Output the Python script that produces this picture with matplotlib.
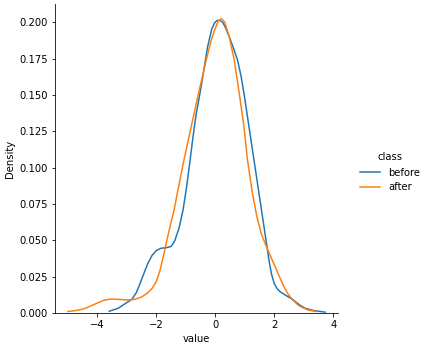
import matplotlib
matplotlib.use("Agg")
import matplotlib.pyplot as plt

# Kernel density estimates of "value", one curve per class
before_x = [-3.60, -3.30, -3.00, -2.83, -2.68, -2.55, -2.40, -2.28, -2.15, -2.00,
            -1.85, -1.65, -1.50, -1.38, -1.23, -1.10, -0.98, -0.87, -0.76, -0.65,
            -0.48, -0.37, -0.26, -0.12, -0.03, 0.05, 0.13, 0.25, 0.35, 0.47,
            0.60, 0.75, 0.87, 0.97, 1.14, 1.31, 1.48, 1.65, 1.82, 1.90,
            2.00, 2.10, 2.20, 2.40, 2.62, 2.85, 3.05, 3.35, 3.72]
before_y = [0.0012, 0.0032, 0.0072, 0.0094, 0.0140, 0.0204, 0.0285, 0.0345, 0.0395, 0.0430,
            0.0445, 0.0450, 0.0458, 0.0495, 0.0585, 0.0705, 0.0860, 0.1030, 0.1210, 0.1370,
            0.1560, 0.1700, 0.1835, 0.1955, 0.1995, 0.2012, 0.2014, 0.2000, 0.1960, 0.1900,
            0.1830, 0.1740, 0.1630, 0.1510, 0.1280, 0.1050, 0.0820, 0.0590, 0.0360, 0.0270,
            0.0200, 0.0165, 0.0145, 0.0120, 0.0093, 0.0056, 0.0032, 0.0016, 0.0006]

after_x = [-5.00, -4.70, -4.46, -4.12, -3.79, -3.56, -3.30, -3.00, -2.75, -2.50,
           -2.30, -2.15, -2.00, -1.88, -1.77, -1.60, -1.40, -1.10, -0.80, -0.55,
           -0.31, -0.15, -0.03, 0.10, 0.21, 0.32, 0.47, 0.64, 0.81, 0.97,
           1.09, 1.25, 1.40, 1.55, 1.70, 1.85, 2.00, 2.15, 2.30, 2.45,
           2.60, 2.80, 2.93, 3.15, 3.42]
after_y = [0.0010, 0.0018, 0.0028, 0.0058, 0.0087, 0.0096, 0.0094, 0.0090, 0.0093, 0.0110,
           0.0138, 0.0168, 0.0218, 0.0290, 0.0385, 0.0540, 0.0710, 0.1020, 0.1300, 0.1530,
           0.1740, 0.1870, 0.1945, 0.2010, 0.2025, 0.2000, 0.1900, 0.1740, 0.1510, 0.1280,
           0.1050, 0.0830, 0.0670, 0.0550, 0.0470, 0.0400, 0.0330, 0.0260, 0.0190, 0.0135,
           0.0094, 0.0055, 0.0039, 0.0020, 0.0010]

classes = ["before", "after"]
palette = ["#1f77b4", "#ff7f0e"]

fig = plt.figure(figsize=(422 / 72, 345 / 72), dpi=72)
ax = fig.add_axes([55 / 422, 32 / 345, 283 / 422, 309 / 345])

lines = []
for name, xs, ys, color in zip(classes, [before_x, after_x], [before_y, after_y], palette):
    (ln,) = ax.plot(xs, ys, color=color, lw=1.5, label=name)
    lines.append(ln)

ax.set_ylim(bottom=0)
ax.set_xlabel("value")
ax.set_ylabel("Density")
ax.spines["top"].set_visible(False)
ax.spines["right"].set_visible(False)

fig.legend(handles=lines, labels=classes, title="class", frameon=False,
           loc="center left", bbox_to_anchor=(351 / 422, 0.5))

fig.savefig("out.png", dpi=72)
